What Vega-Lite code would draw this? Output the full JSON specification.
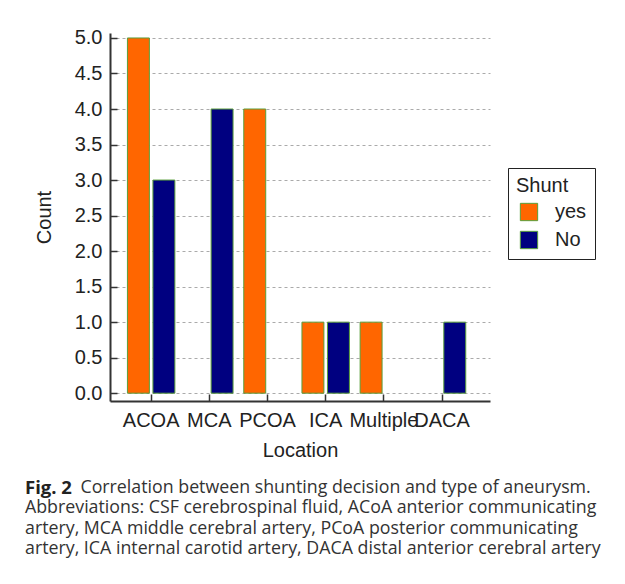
{
  "$schema": "https://vega.github.io/schema/vega-lite/v6.json",
  "width": 380,
  "height": 368,
  "autosize": {"type": "none"},
  "padding": {"left": 110, "top": 33, "right": 135, "bottom": 183},
  "background": "white",
  "data": {
    "values": [
      {"location": "ACOA", "shunt": "yes", "count": 5},
      {"location": "ACOA", "shunt": "No", "count": 3},
      {"location": "MCA", "shunt": "yes", "count": 0},
      {"location": "MCA", "shunt": "No", "count": 4},
      {"location": "PCOA", "shunt": "yes", "count": 4},
      {"location": "PCOA", "shunt": "No", "count": 0},
      {"location": "ICA", "shunt": "yes", "count": 1},
      {"location": "ICA", "shunt": "No", "count": 1},
      {"location": "Multiple", "shunt": "yes", "count": 1},
      {"location": "Multiple", "shunt": "No", "count": 0},
      {"location": "DACA", "shunt": "yes", "count": 0},
      {"location": "DACA", "shunt": "No", "count": 1}
    ]
  },
  "transform": [{"filter": "datum.count > 0"}],
  "mark": {"type": "bar", "stroke": "#5a9e3a", "strokeWidth": 1},
  "encoding": {
    "x": {
      "field": "location",
      "type": "nominal",
      "sort": ["ACOA", "MCA", "PCOA", "ICA", "Multiple", "DACA"],
      "scale": {"domain": ["ACOA", "MCA", "PCOA", "ICA", "Multiple", "DACA"], "paddingInner": 0, "paddingOuter": 0.266, "align": 0.39},
      "axis": {
        "title": "Location",
        "labelAngle": 0,
        "labelFont": "Liberation Sans",
        "labelFontSize": 20,
        "labelColor": "#222",
        "labelPadding": 16,
        "tickSize": -7,
        "tickColor": "#333",
        "tickWidth": 1.5,
        "domainColor": "#333",
        "domainWidth": 2,
        "titleFont": "Liberation Sans",
        "titleFontSize": 20,
        "titleFontWeight": "normal",
        "titleColor": "#222",
        "titlePadding": 10,
        "grid": false
      }
    },
    "xOffset": {
      "field": "shunt",
      "type": "nominal",
      "scale": {"domain": ["yes", "No"], "paddingInner": 0.14, "paddingOuter": 0.21}
    },
    "y": {
      "field": "count",
      "type": "quantitative",
      "scale": {"domain": [-0.11, 5.07], "nice": false, "zero": false},
      "axis": {
        "title": "Count",
        "values": [0, 0.5, 1, 1.5, 2, 2.5, 3, 3.5, 4, 4.5, 5],
        "format": ".1f",
        "labelFont": "Liberation Sans",
        "labelFontSize": 20,
        "labelColor": "#222",
        "labelPadding": 15,
        "tickSize": -7,
        "tickColor": "#333",
        "tickWidth": 1.5,
        "domainColor": "#333",
        "domainWidth": 2,
        "grid": true,
        "gridColor": "#aaa",
        "gridDash": [3, 3],
        "gridWidth": 1,
        "titleFont": "Liberation Sans",
        "titleFontSize": 20,
        "titleFontWeight": "normal",
        "titleColor": "#222",
        "titlePadding": 20
      }
    },
    "y2": {"datum": 0},
    "color": {
      "field": "shunt",
      "type": "nominal",
      "scale": {"domain": ["yes", "No"], "range": ["#ff6600", "#000080"]},
      "legend": {
        "title": "Shunt",
        "orient": "none",
        "legendX": 398,
        "legendY": 135,
        "padding": 8,
        "strokeColor": "#222",
        "fillColor": "white",
        "titleFont": "Liberation Sans",
        "titleFontSize": 20,
        "titleFontWeight": "normal",
        "titleColor": "#222",
        "titlePadding": 6,
        "labelFont": "Liberation Sans",
        "labelFontSize": 20,
        "labelColor": "#222",
        "labelOffset": 16,
        "symbolType": "square",
        "symbolSize": 300,
        "symbolStrokeColor": "#5a9e3a",
        "symbolStrokeWidth": 1,
        "symbolOffset": 3,
        "rowPadding": 6
      }
    }
  },
  "title": {
    "text": "Fig. 2",
    "subtitle": [
      "\u200b\u00a0\u00a0\u00a0\u00a0\u00a0\u00a0\u00a0\u00a0\u00a0\u00a0\u00a0\u00a0Correlation between shunting decision and type of aneurysm.",
      "Abbreviations: CSF cerebrospinal fluid, ACoA anterior communicating",
      "artery, MCA middle cerebral artery, PCoA posterior communicating",
      "artery, ICA internal carotid artery, DACA distal anterior cerebral artery"
    ],
    "orient": "bottom",
    "anchor": "start",
    "frame": "group",
    "dx": -85,
    "offset": 19,
    "font": "Open Sans",
    "fontSize": 18.5,
    "fontWeight": "bold",
    "color": "#222",
    "subtitleFont": "Open Sans",
    "subtitleFontSize": 17.8,
    "subtitleColor": "#333",
    "subtitleLineHeight": 20.3,
    "subtitlePadding": -18.5
  },
  "config": {"view": {"stroke": null}}
}
